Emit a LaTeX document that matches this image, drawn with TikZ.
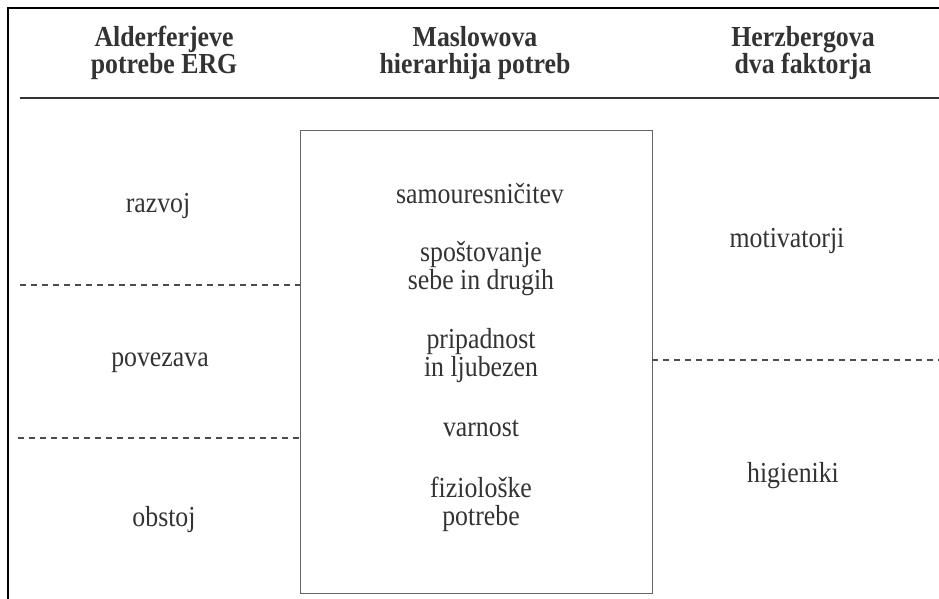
\documentclass[tikz,border=0pt]{standalone}
\usepackage{fontspec}
\setmainfont{Liberation Serif}[FakeStretch=0.89]
\usetikzlibrary{positioning}

\begin{document}
\begin{tikzpicture}[
    x=1pt, y=-1pt,
    head/.style={font=\fontsize{29}{27}\selectfont\bfseries, align=center, text=black!80},
    need/.style={font=\fontsize{29}{28}\selectfont, align=center, text=black!80},
    frame/.style={draw=black, line width=2.4pt},
    rule/.style={draw=black!80, line width=1.6pt},
    divider/.style={draw=black!70, line width=1.3pt, dash pattern=on 6pt off 5pt},
    pyramid/.style={rectangle, draw=black!60, line width=0.9pt, minimum width=352pt, minimum height=463pt, inner sep=0pt},
]
    \useasboundingbox (0,0) rectangle (939,599);
    \draw[frame] (8,620) -- (8,8) -- (960,8);

    % column headers
    \node[head] (erg) at (164,53) {Alderferjeve\\potrebe ERG};
    \node[head] (maslow) at (475,53) {Maslowova\\hierarhija potreb};
    \node[head] (herz) at (803,53) {Herzbergova\\dva faktorja};
    \coordinate (ruleL) at (20,98);
    \coordinate (ruleR) at (939,98);
    \draw[rule] (ruleL) -- (ruleR);

    % Maslow box
    \node[pyramid] (box) at (476,361.5) {};
    \node[need] (self) at (480,194) {samouresničitev};
    \node[need] (esteem) at (481,269) {spoštovanje\\sebe in drugih};
    \node[need] (love) at (481,355.5) {pripadnost\\in ljubezen};
    \node[need] (safety) at (481,428) {varnost};
    \node[need] (phys) at (481,504) {fiziološke\\potrebe};

    % ERG
    \node[need] (growth) at (158,206) {razvoj};
    \node[need] (related) at (160,363) {povezava};
    \node[need] (exist) at (164,520) {obstoj};
    \coordinate (ergA) at (20,285);
    \coordinate (ergB) at (18,438);
    \draw[divider] (ergA) -- (ergA -| box.west);
    \draw[divider] (ergB) -- (ergB -| box.west);

    % Herzberg
    \node[need] (motiv) at (787,241) {motivatorji};
    \node[need] (hyg) at (793,476) {higieniki};
    \coordinate (herzA) at (939,360);
    \draw[divider] (herzA -| box.east) -- (herzA);
\end{tikzpicture}
\end{document}
